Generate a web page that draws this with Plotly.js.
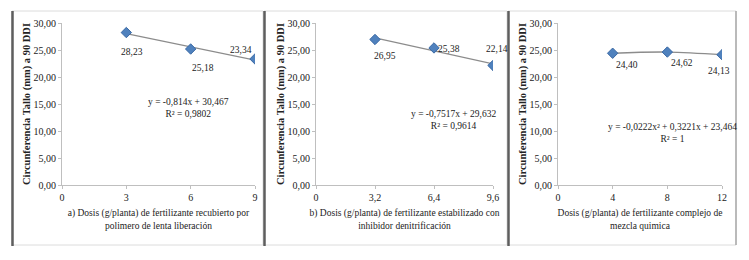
<!DOCTYPE html>
<html>
<head>
<meta charset="utf-8">
<script src="https://cdn.plot.ly/plotly-3.0.1.min.js"></script>
<style>html,body{margin:0;padding:0;background:#fff;}#chart{width:749px;height:260px;}</style>
</head>
<body>
<div id="chart"></div>
<script>
// ---- data ----
const xA = [3, 6, 9];
const yA = [28.23, 25.18, 23.34];
const xB = [3.2, 6.4, 9.6];
const yB = [26.95, 25.38, 22.14];
const xC = [4, 8, 12];
const yC = [24.40, 24.62, 24.13];
// trendline coefficients shown in the chart
const coefA = [30.467, -0.814];          // a + b x
const coefB = [29.632, -0.7517];
const coefC = [23.464, 0.3221, -0.0222]; // a + b x + c x^2
const eqA = ['y = -0,814x + 30,467', 'R² = 0,9802'];
const eqB = ['y = -0,7517x + 29,632', 'R² = 0,9614'];
const eqC = ['y = -0,0222x² + 0,3221x + 23,464', 'R² = 1'];
const xTitleA = 'a) Dosis (g/planta) de fertilizante recubierto por<br>polimero de lenta liberación';
const xTitleB = 'b) Dosis (g/planta) de fertilizante estabilizado con<br>inhibidor denitrificación';
const xTitleC = 'Dosis (g/planta) de fertilizante complejo de<br>mezcla quimica';
const yTitle = 'Circunferencia Tallo (mm) a 90 DDI';
const xTicksA = [0, 3, 6, 9];
const xTicksB = [0, 3.2, 6.4, 9.6];
const xTicksC = [0, 4, 8, 12];
const yTicks = [0, 5, 10, 15, 20, 25, 30];

const poly = (c, x) => c.reduce((s, k, i) => s + k * Math.pow(x, i), 0);
const fmt = v => v.toFixed(2).replace('.', ',');

const W = 749, H = 260;
const px = x => x / W, py = y => 1 - y / H;

const FONT = 'Times New Roman, Liberation Serif, Tinos, DejaVu Serif, serif';
const markerStyle = {symbol: 'diamond', size: 8, color: '#4F81BD', line: {color: '#3b6aa5', width: 1}};
const trendStyle = {color: '#8c8c8c', width: 1.3};

function trend(xs, c, xa, ya, shape) {
  return {x: xs, y: xs.map(x => poly(c, x)), mode: 'lines', line: Object.assign({shape: shape || 'linear'}, trendStyle),
          xaxis: xa, yaxis: ya, hoverinfo: 'skip', showlegend: false};
}
function pts(xs, ys, xa, ya) {
  return {x: xs, y: ys, mode: 'markers', marker: markerStyle, xaxis: xa, yaxis: ya, showlegend: false};
}

const data = [
  trend(xA, coefA, 'x', 'y'), pts(xA, yA, 'x', 'y'),
  trend(xB, coefB, 'x2', 'y2'), pts(xB, yB, 'x2', 'y2'),
  trend(xC, coefC, 'x3', 'y3', 'spline'), pts(xC, yC, 'x3', 'y3')
];

const yDom = [py(185), py(23)];
function xax(dom, range, ticks, title, anchor) {
  return {domain: dom, range: range, tickvals: ticks, ticks: 'outside', ticklen: 3, tickcolor: '#bfbfbf',
          showline: true, linecolor: '#bfbfbf', linewidth: 1, showgrid: false, zeroline: false,
          tickfont: {family: FONT, size: 10, color: '#222'}, anchor: anchor, fixedrange: true,
          title: {text: title, font: {family: FONT, size: 9.5, color: '#222'}, standoff: 7}};
}
function yax(anchor) {
  return {domain: yDom, range: [0, 30], tickvals: yTicks, tickformat: '.2f', ticks: 'outside', ticklen: 3,
          tickcolor: '#bfbfbf', showline: true, linecolor: '#bfbfbf', linewidth: 1, showgrid: false, zeroline: false,
          tickfont: {family: FONT, size: 10, color: '#222'}, anchor: anchor, fixedrange: true,
          title: {text: '<b>' + yTitle + '</b>', font: {family: FONT, size: 10.5, color: '#222'}, standoff: 0}};
}

// data label offsets (pixels)
const labA = [[6, -19], [12, -19], [-14, 9]];
const labB = [[10, -17], [15, -1], [4, 16]];
const labC = [[14, -12], [15, -11], [-3, -16]];
const annotations = [];
function addLabels(xs, ys, offs, xr, yr) {
  xs.forEach((x, i) => annotations.push({x: x, y: ys[i], xref: xr, yref: yr, text: fmt(ys[i]), showarrow: false,
    xanchor: 'center', yanchor: 'middle',
    xshift: offs[i][0], yshift: offs[i][1], font: {family: FONT, size: 9.5, color: '#222'}}));
}
addLabels(xA, yA, labA, 'x', 'y');
addLabels(xB, yB, labB, 'x2', 'y2');
addLabels(xC, yC, labC, 'x3', 'y3');
function addEq(eq, cx, cy) {
  annotations.push({x: px(cx), y: py(cy), xref: 'paper', yref: 'paper', text: eq[0] + '<br>' + eq[1], showarrow: false,
    xanchor: 'center', yanchor: 'middle', align: 'center', font: {family: FONT, size: 9.5, color: '#222'}});
}
addEq(eqA, 188, 108);
addEq(eqB, 453, 120);
addEq(eqC, 672, 133);

const shapes = [];
[[12, 263], [264, 507], [508, 736]].forEach(([a, b]) => {
  shapes.push({type: 'rect', xref: 'paper', yref: 'paper', x0: px(a), x1: px(b), y0: py(245), y1: py(11),
    line: {color: '#dcdcdc', width: 1}});
});
[12.5, 264.5, 508.5].forEach(x => shapes.push({type: 'line', xref: 'paper', yref: 'paper', x0: px(x), x1: px(x),
  y0: py(246), y1: py(11), line: {color: '#5e5e5e', width: 2.5}}));
shapes.push({type: 'line', xref: 'paper', yref: 'paper', x0: px(736), x1: px(736), y0: py(245), y1: py(11),
  line: {color: '#a8a8a8', width: 1.5}});

const layout = {
  width: W, height: H, margin: {l: 0, r: 0, t: 0, b: 0}, paper_bgcolor: '#fff', plot_bgcolor: '#fff',
  separators: ',.', showlegend: false, font: {family: FONT},
  xaxis: xax([px(62), px(255)], [0, 9], xTicksA, xTitleA, 'y'),
  yaxis: yax('x'),
  xaxis2: xax([px(316), px(493)], [0, 9.6], xTicksB, xTitleB, 'y2'),
  yaxis2: yax('x2'),
  xaxis3: xax([px(558), px(722)], [0, 12], xTicksC, xTitleC, 'y3'),
  yaxis3: yax('x3'),
  annotations: annotations, shapes: shapes
};
Plotly.newPlot('chart', data, layout, {displayModeBar: false, staticPlot: true});
</script>
</body>
</html>
